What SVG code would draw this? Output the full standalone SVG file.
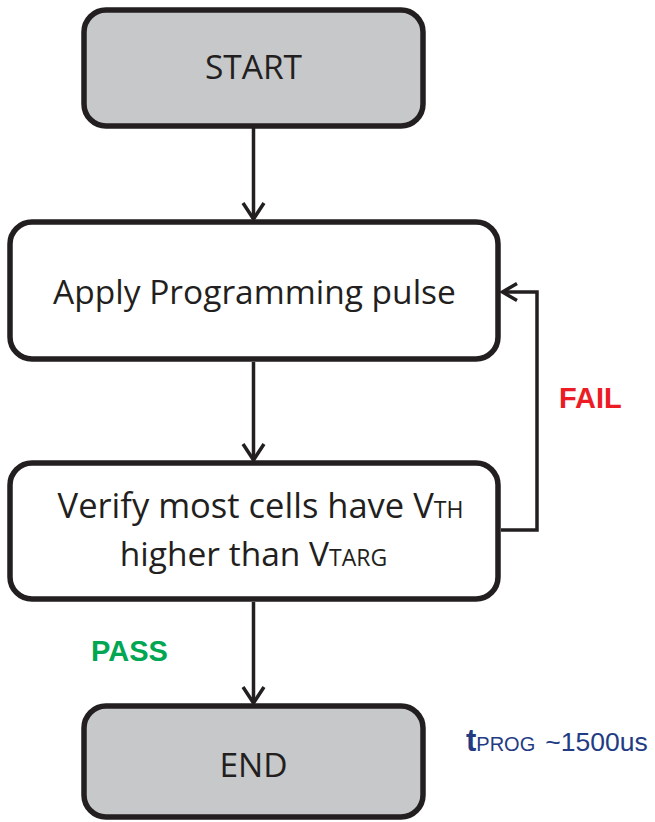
<svg xmlns="http://www.w3.org/2000/svg" width="655" height="822" viewBox="0 0 655 822">
<defs>
<style>
.box{stroke:#231f20;stroke-width:5.5;}
.term{fill:#c7c8ca;}
.proc{fill:#ffffff;}
.lbl{font-family:"Open Sans","DejaVu Sans",sans-serif;font-size:33.5px;fill:#231f20;text-anchor:middle;}
.sub{font-size:23px;}
.conn{fill:none;stroke:#231f20;stroke-width:3.5;}
.head{fill:none;stroke:#231f20;stroke-width:3.5;stroke-linejoin:miter;}
.tag{font-family:"Liberation Sans",Arial,sans-serif;font-weight:bold;font-size:29px;}
</style>
</defs>
<rect width="655" height="822" fill="#ffffff"/>
<g id="start">
<rect class="box term" x="84" y="10" width="339" height="116" rx="22"/>
<text class="lbl" x="253.5" y="79">START</text>
</g>
<g id="apply">
<rect class="box proc" x="10" y="222" width="488" height="137" rx="22"/>
<text class="lbl" x="254.5" y="304">Apply Programming pulse</text>
</g>
<g id="verify">
<rect class="box proc" x="10" y="463" width="488" height="136" rx="22"/>
<text class="lbl" x="260.5" y="518" style="font-size:34.5px">Verify most cells have V<tspan class="sub">TH</tspan></text>
<text class="lbl" x="253.5" y="566">higher than V<tspan class="sub">TARG</tspan></text>
</g>
<g id="end">
<rect class="box term" x="84" y="706" width="339" height="111" rx="22"/>
<text class="lbl" x="253.5" y="777">END</text>
</g>
<g id="connectors">
<path class="conn" d="M253.5 128 V219"/>
<path class="head" d="M243 203 L253.5 219 L264 203"/>
<path class="conn" d="M253.5 362 V460"/>
<path class="head" d="M243 444 L253.5 460 L264 444"/>
<path class="conn" d="M253.5 602 V703"/>
<path class="head" d="M243 687 L253.5 703 L264 687"/>
<path class="conn" d="M501 530 H537 V292 H503"/>
<path class="head" d="M517 283.5 L502.5 292 L517 300.5"/>
<text class="tag" x="559" y="408" fill="#ed1c24">FAIL</text>
<text class="tag" x="91" y="661" fill="#00a651">PASS</text>
</g>
<g id="tprog">
<text x="466" y="751" font-family="'Liberation Sans',Arial,sans-serif" fill="#233b83"><tspan font-weight="bold" font-size="31px">t</tspan><tspan font-size="20px">PROG</tspan><tspan font-size="26.5px" dx="10">~1500us</tspan></text>
</g>
</svg>
